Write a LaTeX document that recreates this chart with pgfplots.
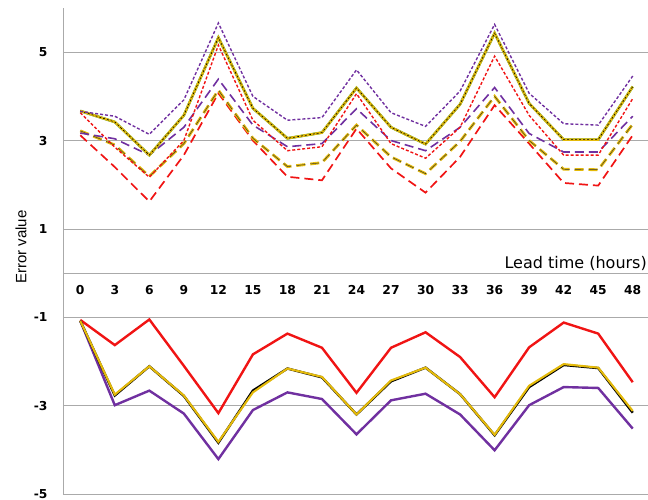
\documentclass[border=0pt]{standalone}
\usepackage{fontspec}
\setmainfont{DejaVu Sans}
\newfontfamily\arialfont{Liberation Sans}
\usepackage{pgfplots}
\pgfplotsset{compat=1.18}
\usepackage{pgfplotstable}
\definecolor{cred}{RGB}{240,20,20}
\definecolor{cpurple}{RGB}{112,48,160}
\definecolor{cyellow}{RGB}{228,186,10}
\definecolor{cgreen}{RGB}{60,160,60}
\definecolor{cgrid}{RGB}{170,170,170}

\pgfplotstableread{
x PS YS RS PL YL RL
0 3.66 3.67 3.63 3.17 3.22 3.12
1 3.55 3.42 2.85 3.04 2.90 2.40
2 3.14 2.67 2.17 2.67 2.19 1.62
3 3.92 3.57 3.00 3.30 2.93 2.67
4 5.66 5.33 5.16 4.39 4.14 4.07
5 4.00 3.73 3.46 3.35 3.05 3.00
6 3.46 3.05 2.77 2.86 2.41 2.18
7 3.52 3.18 2.86 2.93 2.50 2.10
8 4.60 4.19 4.06 3.72 3.35 3.27
9 3.63 3.30 2.93 3.00 2.63 2.37
10 3.32 2.92 2.60 2.77 2.25 1.82
11 4.12 3.82 3.30 3.30 2.98 2.63
12 5.63 5.43 4.91 4.20 4.00 3.80
13 4.07 3.84 3.57 3.16 3.00 2.93
14 3.38 3.02 2.67 2.74 2.35 2.04
15 3.35 3.02 2.67 2.74 2.34 1.98
16 4.46 4.22 3.95 3.55 3.37 3.12
}\uppertab

\pgfplotstableread{
x R Y K P
0 -1.06 -1.08 -1.08 -1.08
1 -1.63 -2.75 -2.77 -2.99
2 -1.05 -2.11 -2.11 -2.66
3 -2.10 -2.77 -2.78 -3.18
4 -3.17 -3.82 -3.84 -4.21
5 -1.84 -2.70 -2.66 -3.10
6 -1.37 -2.16 -2.16 -2.70
7 -1.69 -2.35 -2.36 -2.85
8 -2.71 -3.20 -3.20 -3.65
9 -1.69 -2.43 -2.45 -2.88
10 -1.34 -2.14 -2.14 -2.73
11 -1.90 -2.74 -2.74 -3.20
12 -2.81 -3.66 -3.67 -4.01
13 -1.68 -2.55 -2.58 -2.99
14 -1.12 -2.06 -2.08 -2.58
15 -1.37 -2.14 -2.15 -2.60
16 -2.47 -3.12 -3.16 -3.52
}\lowertab

\begin{document}
\begin{tikzpicture}
\begin{axis}[
  name=ax,
  scale only axis,
  width=587pt, height=486pt,
  xmin=-0.5, xmax=16.5, ymin=-5, ymax=6,
  axis x line*=middle, axis y line*=left,
  axis line style={draw=cgrid, line width=0.8pt, -},
  xtick={0,1,2,3,4,5,6,7,8,9,10,11,12,13,14,15,16},
  xticklabels={0,3,6,9,12,15,18,21,24,27,30,33,36,39,42,45,48},
  ytick={-5,-3,-1,1,3,5},
  yticklabels={-5,-3,-1,1,3,5},
  major tick length=0pt,
  ymajorgrids,
  grid style={draw=cgrid, line width=0.8pt},
  tick label style={font=\fontsize{12.3}{14}\selectfont\bfseries},
  xticklabel style={yshift=-9pt},
  yticklabel style={xshift=-12pt},
  ylabel={Error value},
  ylabel style={font=\arialfont\fontsize{15}{17}\selectfont, at={(axis description cs:-0.0716,0.508)}, anchor=center},
]
% upper group
\addplot[cred, line width=1.7pt, dash pattern=on 9pt off 5pt] table[x=x,y=RL]{\uppertab};
\addplot[cyellow, line width=2.8pt, dash pattern=on 9pt off 5pt] table[x=x,y=YL]{\uppertab};
\addplot[black!80, line width=0.45pt, dash pattern=on 9pt off 5pt] table[x=x,y=YL]{\uppertab};
\addplot[cpurple, line width=1.6pt, dash pattern=on 9pt off 5pt] table[x=x,y=PL]{\uppertab};
\addplot[cred, line width=1.4pt, dash pattern=on 3pt off 2pt] table[x=x,y=RS]{\uppertab};
\addplot[cgreen, line width=2.6pt] table[x=x,y=YS]{\uppertab};
\addplot[cyellow, line width=2.4pt] table[x=x,y=YS]{\uppertab};
\addplot[black, line width=0.6pt, dash pattern=on 2pt off 2pt] table[x=x,y=YS]{\uppertab};
\addplot[cpurple, line width=1.4pt, dash pattern=on 3pt off 2pt] table[x=x,y=PS]{\uppertab};
% lower group
\addplot[cred, line width=2.4pt] table[x=x,y=R]{\lowertab};
\addplot[cpurple, line width=2.4pt] table[x=x,y=P]{\lowertab};
\addplot[black, line width=2.4pt] table[x=x,y=K]{\lowertab};
\addplot[cyellow, line width=2.1pt] table[x=x,y=Y]{\lowertab};
\node[anchor=base east, inner sep=0pt, xshift=-3pt, yshift=5pt, font=\fontsize{16}{18}\selectfont] at (axis cs:16.5,0) {Lead time (hours)};
\end{axis}
\pgfresetboundingbox
\path[use as bounding box] (ax.south west) ++(-63pt,-6pt) rectangle ++(648pt,500pt);
\end{tikzpicture}
\end{document}
